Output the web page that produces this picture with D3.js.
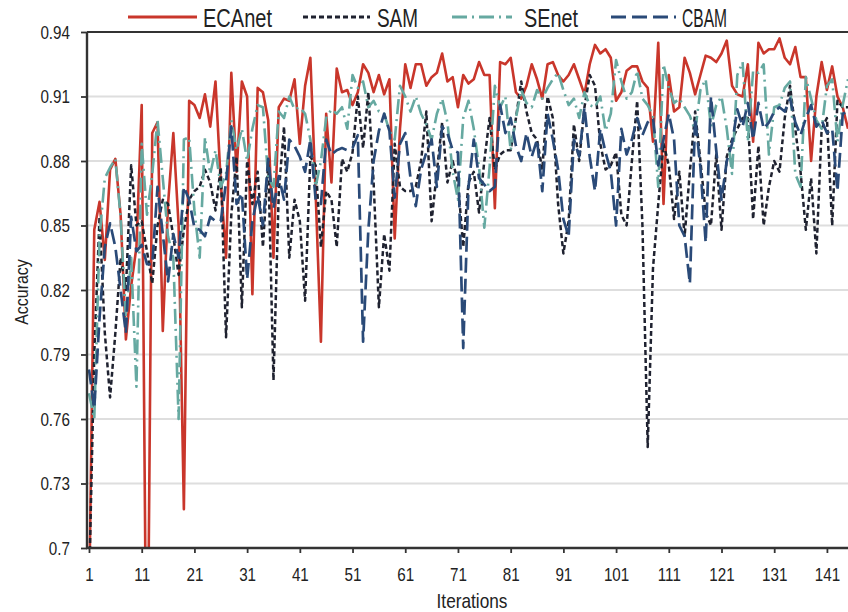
<!DOCTYPE html>
<html>
<head>
<meta charset="utf-8">
<script src="https://cdn.jsdelivr.net/npm/d3@7"></script>
<style>
  body { margin: 0; background: #fff; }
  svg text { font-family: "Liberation Sans", Arial, sans-serif; fill: #222; }
</style>
</head>
<body>
<div class="chart"></div>
<script>
const width = 848;
const height = 612;
const plotLeft = 87, plotRight = 848, plotTop = 32, plotBottom = 548;

const seriesNames = ["ECAnet", "SAM", "SEnet", "CBAM"];
const yTicks = [0.7, 0.73, 0.76, 0.79, 0.82, 0.85, 0.88, 0.91, 0.94];
const xTicks = [1, 11, 21, 31, 41, 51, 61, 71, 81, 91, 101, 111, 121, 131, 141];

const ecanet = [
  0.670, 0.848, 0.861, 0.834, 0.876, 0.881, 0.855, 0.797, 0.822, 0.840,
  0.906, 0.600, 0.893, 0.898, 0.801, 0.860, 0.893, 0.850, 0.718, 0.908,
  0.906, 0.900, 0.911, 0.896, 0.917, 0.870, 0.835, 0.921, 0.875, 0.917,
  0.910, 0.818, 0.914, 0.912, 0.899, 0.835, 0.905, 0.909, 0.908, 0.918,
  0.888, 0.915, 0.928, 0.865, 0.796, 0.902, 0.870, 0.923, 0.912, 0.913,
  0.906, 0.912, 0.925, 0.921, 0.912, 0.920, 0.911, 0.918, 0.844, 0.895,
  0.925, 0.914, 0.925, 0.925, 0.915, 0.919, 0.921, 0.930, 0.917, 0.919,
  0.905, 0.920, 0.916, 0.918, 0.926, 0.920, 0.920, 0.858, 0.926, 0.925,
  0.928, 0.912, 0.909, 0.915, 0.925, 0.918, 0.909, 0.925, 0.926, 0.920,
  0.917, 0.920, 0.925, 0.918, 0.911, 0.925, 0.934, 0.930, 0.932, 0.928,
  0.908, 0.912, 0.922, 0.924, 0.924, 0.917, 0.914, 0.889, 0.935, 0.860,
  0.920, 0.903, 0.905, 0.928, 0.921, 0.911, 0.920, 0.929, 0.928, 0.926,
  0.930, 0.936, 0.915, 0.911, 0.910, 0.925, 0.889, 0.935, 0.930, 0.932,
  0.932, 0.937, 0.928, 0.925, 0.933, 0.919, 0.919, 0.880, 0.910, 0.926,
  0.913, 0.924, 0.910, 0.905, 0.895
];

const sam = [
  0.680, 0.790, 0.854, 0.800, 0.770, 0.800, 0.835, 0.820, 0.878, 0.850,
  0.852, 0.838, 0.823, 0.850, 0.862, 0.860, 0.845, 0.827, 0.848, 0.862,
  0.866, 0.868, 0.876, 0.870, 0.857, 0.877, 0.798, 0.855, 0.882, 0.812,
  0.880, 0.860, 0.875, 0.840, 0.880, 0.778, 0.865, 0.896, 0.835, 0.862,
  0.852, 0.815, 0.882, 0.878, 0.840, 0.866, 0.862, 0.840, 0.881, 0.875,
  0.884, 0.910, 0.886, 0.912, 0.870, 0.812, 0.846, 0.829, 0.888, 0.868,
  0.866, 0.866, 0.868, 0.880, 0.903, 0.852, 0.875, 0.898, 0.870, 0.880,
  0.870, 0.840, 0.870, 0.875, 0.856, 0.880, 0.900, 0.876, 0.883, 0.885,
  0.885, 0.900, 0.917, 0.903, 0.893, 0.890, 0.876, 0.910, 0.900, 0.860,
  0.837, 0.852, 0.897, 0.880, 0.905, 0.920, 0.915, 0.888, 0.876, 0.878,
  0.884, 0.855, 0.850, 0.880, 0.908, 0.850, 0.747, 0.830, 0.860, 0.888,
  0.878, 0.853, 0.875, 0.845, 0.875, 0.903, 0.880, 0.856, 0.850, 0.883,
  0.848, 0.882, 0.890, 0.895, 0.900, 0.900, 0.853, 0.887, 0.850, 0.868,
  0.880, 0.875, 0.900, 0.915, 0.895, 0.875, 0.848, 0.872, 0.837, 0.895,
  0.900, 0.850, 0.908, 0.905, 0.905
];

const senet = [
  0.772, 0.760, 0.845, 0.872, 0.877, 0.881, 0.854, 0.806, 0.835, 0.775,
  0.888, 0.855, 0.874, 0.899, 0.872, 0.845, 0.835, 0.760, 0.890, 0.891,
  0.857, 0.835, 0.891, 0.874, 0.885, 0.868, 0.874, 0.899, 0.885, 0.895,
  0.880, 0.895, 0.906, 0.905, 0.872, 0.868, 0.903, 0.900, 0.910, 0.904,
  0.905, 0.902, 0.890, 0.868, 0.880, 0.900, 0.904, 0.902, 0.905, 0.895,
  0.920, 0.914, 0.917, 0.905, 0.908, 0.903, 0.902, 0.894, 0.890, 0.915,
  0.910, 0.903, 0.910, 0.902, 0.897, 0.890, 0.902, 0.909, 0.898, 0.875,
  0.862, 0.900, 0.908, 0.895, 0.877, 0.849, 0.877, 0.915, 0.905, 0.910,
  0.885, 0.900, 0.913, 0.907, 0.905, 0.913, 0.909, 0.914, 0.918, 0.921,
  0.913, 0.906, 0.909, 0.900, 0.912, 0.906, 0.905, 0.910, 0.894, 0.902,
  0.927, 0.917, 0.909, 0.912, 0.922, 0.909, 0.906, 0.901, 0.868, 0.925,
  0.914, 0.907, 0.909, 0.905, 0.901, 0.894, 0.913, 0.918, 0.896, 0.906,
  0.910, 0.895, 0.874, 0.920, 0.926, 0.889, 0.922, 0.921, 0.925, 0.883,
  0.905, 0.906, 0.914, 0.917, 0.874, 0.868, 0.919, 0.909, 0.899, 0.895,
  0.915, 0.918, 0.889, 0.906, 0.918
];

const cbam = [
  0.783, 0.765, 0.807, 0.840, 0.851, 0.840, 0.820, 0.800, 0.854, 0.838,
  0.841, 0.832, 0.832, 0.868, 0.846, 0.824, 0.846, 0.835, 0.868, 0.862,
  0.849, 0.848, 0.845, 0.854, 0.852, 0.852, 0.870, 0.896, 0.860, 0.865,
  0.825, 0.852, 0.864, 0.850, 0.881, 0.858, 0.873, 0.862, 0.890, 0.887,
  0.882, 0.875, 0.890, 0.862, 0.860, 0.890, 0.883, 0.885, 0.886, 0.885,
  0.886, 0.892, 0.796, 0.848, 0.880, 0.894, 0.902, 0.894, 0.863, 0.888,
  0.893, 0.872, 0.859, 0.876, 0.884, 0.890, 0.868, 0.896, 0.893, 0.885,
  0.884, 0.793, 0.868, 0.890, 0.872, 0.869, 0.866, 0.868, 0.906, 0.893,
  0.900, 0.887, 0.880, 0.893, 0.882, 0.890, 0.866, 0.902, 0.890, 0.876,
  0.853, 0.845, 0.890, 0.882, 0.905, 0.882, 0.866, 0.895, 0.884, 0.875,
  0.850, 0.895, 0.883, 0.890, 0.900, 0.892, 0.898, 0.900, 0.878, 0.890,
  0.902, 0.890, 0.850, 0.845, 0.823, 0.900, 0.877, 0.842, 0.910, 0.885,
  0.862, 0.880, 0.888, 0.904, 0.896, 0.907, 0.890, 0.907, 0.895, 0.898,
  0.903, 0.905, 0.903, 0.909, 0.898, 0.892, 0.900, 0.906, 0.896, 0.899,
  0.893, 0.895, 0.866, 0.902, 0.903
];

const allSeries = [ecanet, sam, senet, cbam];
const colors = ["#c9362b", "#1f2230", "#66a9a1", "#2a4a78"];
const dashes = ["none", "5,3", "15,5,2,5", "15,6"];
const widths = [2.6, 2.5, 2.6, 2.7];

// squeeze text horizontally, like a narrow font
function narrow(sel, k) {
  sel.each(function () {
    const len = this.getComputedTextLength();
    d3.select(this)
      .attr("textLength", len * k)
      .attr("lengthAdjust", "spacingAndGlyphs");
  });
}

const svg = d3.select(".chart")
  .append("svg")
  .attr("width", width)
  .attr("height", height);

const x = d3.scaleLinear().domain([1, 145]).range([89, 848]);
const y = d3.scaleLinear().domain([0.7, 0.94]).range([plotBottom, plotTop]);

// grid
svg.append("g")
  .selectAll("line")
  .data(yTicks.slice(1, -1))
  .enter()
  .append("line")
  .attr("x1", plotLeft)
  .attr("x2", plotRight)
  .attr("y1", (d) => y(d))
  .attr("y2", (d) => y(d))
  .attr("stroke", "#dedede")
  .attr("stroke-width", 2);

svg.append("clipPath")
  .attr("id", "plot-clip")
  .append("rect")
  .attr("x", plotLeft)
  .attr("y", plotTop - 3)
  .attr("width", plotRight - plotLeft)
  .attr("height", plotBottom - plotTop + 3);

const line = d3.line()
  .x((d, i) => x(i + 1))
  .y((d) => y(d));

svg.append("g")
  .attr("clip-path", "url(#plot-clip)")
  .selectAll("path")
  .data(allSeries)
  .enter()
  .append("path")
  .attr("d", line)
  .attr("fill", "none")
  .attr("stroke", (d, i) => colors[i])
  .attr("stroke-width", (d, i) => widths[i])
  .attr("stroke-dasharray", (d, i) => dashes[i])
  .attr("stroke-linejoin", "round");

// top border
svg.append("line")
  .attr("x1", plotLeft)
  .attr("x2", plotRight)
  .attr("y1", plotTop)
  .attr("y2", plotTop)
  .attr("stroke", "#333")
  .attr("stroke-width", 2);

// axes
const yAxis = d3.axisLeft(y)
  .tickValues(yTicks)
  .tickSize(6)
  .tickPadding(11)
  .tickFormat((d) => String(+d.toFixed(2)));

const yG = svg.append("g")
  .attr("transform", `translate(${plotLeft},0)`)
  .call(yAxis);

const xAxis = d3.axisBottom(x)
  .tickValues(xTicks)
  .tickSize(5)
  .tickPadding(15)
  .tickFormat(d3.format("d"));

const xG = svg.append("g")
  .attr("transform", `translate(0,${plotBottom})`)
  .call(xAxis);

xG.select(".domain").remove();
xG.append("line")
  .attr("x1", plotLeft - 1)
  .attr("x2", plotRight)
  .attr("stroke", "#333")
  .attr("stroke-width", 2.6);

yG.select(".domain")
  .attr("stroke", "#333")
  .attr("stroke-width", 2.4)
  .attr("d", `M0,${plotTop}V${plotBottom}`);

[xG, yG].forEach((g) => {
  g.selectAll(".tick line").attr("stroke", "#333").attr("stroke-width", 1.8);
  g.selectAll(".tick text")
    .attr("font-size", 19)
    .attr("fill", "#222")
    .call(narrow, 0.8);
});

// axis titles
svg.append("text")
  .attr("x", 472)
  .attr("y", 608)
  .attr("text-anchor", "middle")
  .attr("font-size", 21)
  .text("Iterations")
  .call(narrow, 0.82);

svg.append("text")
  .attr("transform", "translate(28,292) rotate(-90)")
  .attr("text-anchor", "middle")
  .attr("font-size", 19)
  .text("Accuracy")
  .call(narrow, 0.84);

// legend
const legendX = [128, 303, 452, 611];
const legendLen = [69, 67, 60, 65];
const legendTextX = [203, 377, 524, 682];
const legendTextW = [69, 41, 54, 45];

const legend = svg.append("g")
  .selectAll("g")
  .data(seriesNames)
  .enter()
  .append("g");

legend.append("line")
  .attr("x1", (d, i) => legendX[i])
  .attr("x2", (d, i) => legendX[i] + legendLen[i])
  .attr("y1", 17)
  .attr("y2", 17)
  .attr("stroke", (d, i) => colors[i])
  .attr("stroke-width", 3)
  .attr("stroke-dasharray", (d, i) => dashes[i]);

legend.append("text")
  .attr("x", (d, i) => legendTextX[i])
  .attr("y", 27)
  .attr("font-size", 25)
  .attr("textLength", (d, i) => legendTextW[i])
  .attr("lengthAdjust", "spacingAndGlyphs")
  .text((d) => d);
</script>
</body>
</html>
